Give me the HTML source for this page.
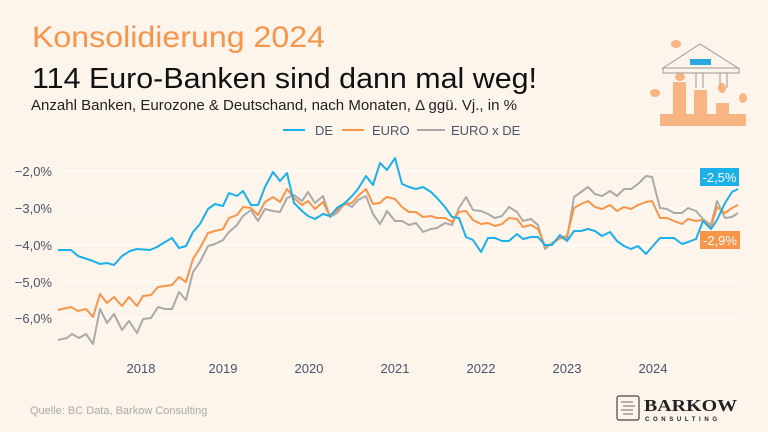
<!DOCTYPE html>
<html><head><meta charset="utf-8"><style>
html,body{margin:0;padding:0;background:#fdf4ec;}
svg{display:block;font-family:"Liberation Sans",sans-serif;}
</style></head><body>
<svg width="768" height="432" viewBox="0 0 768 432" xmlns="http://www.w3.org/2000/svg">
<rect width="768" height="432" fill="#fdf4ec"/>
<text x="32" y="47" font-size="30" fill="#f7954a" textLength="293" lengthAdjust="spacingAndGlyphs">Konsolidierung 2024</text>
<text x="32" y="88" font-size="29" fill="#111" textLength="505" lengthAdjust="spacingAndGlyphs">114 Euro-Banken sind dann mal weg!</text>
<text x="31" y="110" font-size="15" fill="#222" textLength="486" lengthAdjust="spacingAndGlyphs">Anzahl Banken, Eurozone &amp; Deutschand, nach Monaten, Δ ggü. Vj., in %</text>
<g font-size="13" fill="#4a5468">
<line x1="283" y1="130" x2="305" y2="130" stroke="#1ab0e8" stroke-width="2"/><text x="315" y="135">DE</text>
<line x1="342" y1="130" x2="364" y2="130" stroke="#f7954a" stroke-width="2"/><text x="372" y="135">EURO</text>
<line x1="417" y1="130" x2="445" y2="130" stroke="#aaa" stroke-width="2"/><text x="451" y="135">EURO x DE</text>
</g>
<g stroke="#fff" stroke-width="1">
<line x1="58" y1="171" x2="740" y2="171"/><line x1="58" y1="208" x2="740" y2="208"/><line x1="58" y1="245" x2="740" y2="245"/><line x1="58" y1="282" x2="740" y2="282"/><line x1="58" y1="318" x2="740" y2="318"/>
</g>
<g font-size="13" fill="#4a5468" text-anchor="end">
<text x="52" y="176">−2,0%</text><text x="52" y="213">−3,0%</text><text x="52" y="250">−4,0%</text><text x="52" y="287">−5,0%</text><text x="52" y="323">−6,0%</text>
</g>
<g font-size="13" fill="#4a5468" text-anchor="middle">
<text x="141" y="373">2018</text><text x="223" y="373">2019</text><text x="309" y="373">2020</text><text x="395" y="373">2021</text><text x="481" y="373">2022</text><text x="567" y="373">2023</text><text x="653" y="373">2024</text>
</g>
<g fill="none" stroke-width="2" stroke-linejoin="round">
<polyline stroke="#aaa" points="58,340 67,338 72,334 79,338 86,334 93,344 100,309 107,323 114,314 122,330 129,321 137,333 143,319 151,318 158,307 165,309 172,309 179,292 186,300 193,272 200,262 208,246 215,244 223,240 229,232 237,225 243,216 251,210 258,221 265,209 273,211 280,212 287,198 294,195 302,201 308,192 315,203 323,196 330,217 337,213 345,203 352,207 358,200 366,196 373,214 380,224 384,217 387,211 395,221 402,221 409,225 416,223 423,232 431,229 437,228 445,223 452,225 459,208 466,197 473,210 481,211 488,214 495,218 502,216 509,207 517,212 523,221 531,219 538,225 545,249 552,243 560,238 567,239 574,197 581,192 588,187 595,194 602,196 610,191 617,196 624,189 631,189 638,184 646,176 652,177 660,208 667,209 674,213 682,213 688,208 696,211 703,219 711,225 717,201 725,218 732,217 738,213"/>
<polyline stroke="#f7954a" points="58,310 71,307 78,311 86,309 93,317 100,294 107,303 114,297 122,306 129,297 137,306 143,296 151,295 158,287 165,286 172,285 179,277 186,282 193,259 200,248 208,233 215,231 223,229 229,218 237,215 243,207 251,208 258,215 265,202 273,197 280,202 287,189 294,198 302,205 308,201 315,209 323,202 330,216 337,210 345,204 352,203 358,196 366,189 373,204 380,203 384,199 387,197 395,199 402,207 409,212 416,212 423,217 431,216 437,218 445,218 452,222 459,212 466,211 473,220 481,224 488,223 495,226 502,224 509,218 517,219 523,227 531,225 538,229 545,246 552,244 560,238 567,236 574,208 581,204 588,201 595,207 602,209 610,205 617,211 624,207 631,209 638,205 646,202 652,201 660,218 667,218 674,221 682,224 688,219 696,221 703,220 711,227 717,207 725,213 732,208 738,205"/>
<polyline stroke="#1ab0e8" points="58,250 71,250 78,256 93,261 100,264 107,263 114,265 122,256 130,251 137,249 150,250 157,247 165,242 172,238 179,248 186,246 193,232 200,224 208,209 215,204 223,206 229,193 237,196 243,191 251,205 258,205 265,187 273,172 280,181 287,173 294,203 302,211 308,216 315,219 323,214 330,216 337,208 345,203 352,196 358,189 366,176 373,185 380,163 387,170 395,158 402,184 409,187 416,189 423,187 431,192 437,198 445,207 452,217 459,218 466,237 473,240 481,252 488,238 495,238 502,241 509,241 517,234 523,239 531,237 538,237 545,245 552,245 560,235 567,241 574,231 581,231 588,229 595,231 602,236 610,232 617,241 624,246 631,249 638,246 646,254 652,247 660,238 667,238 674,238 682,244 688,242 696,239 703,221 711,229 717,220 725,203 732,192 738,189"/>
</g>
<rect x="700" y="168" width="39" height="18" fill="#1ab0e8"/>
<text x="719.5" y="182" font-size="13" fill="#fff" text-anchor="middle">-2,5%</text>
<rect x="700" y="231" width="40" height="18" fill="#f7954a"/>
<text x="720" y="245" font-size="13" fill="#fff" text-anchor="middle">-2,9%</text>
<g stroke="#999" fill="none" stroke-width="1">
<polygon points="663,68 700,44 738,68"/>
<rect x="663" y="68" width="76" height="5"/>
<line x1="696" y1="73" x2="696" y2="88"/><line x1="703" y1="73" x2="703" y2="88"/>
<line x1="720" y1="73" x2="720" y2="88"/><line x1="727" y1="73" x2="727" y2="88"/>
</g>
<rect x="690" y="59" width="21" height="6" fill="#2aa8e0"/>
<g fill="#f7a060" opacity="0.75">
<rect x="673" y="82" width="13" height="34"/><rect x="694" y="90" width="13" height="26"/><rect x="716" y="103" width="13" height="13"/>
<rect x="660" y="114" width="86" height="12"/>
<ellipse cx="676" cy="44" rx="5" ry="4"/><ellipse cx="680" cy="77" rx="5" ry="4"/><ellipse cx="655" cy="93" rx="5" ry="4"/><ellipse cx="722" cy="88" rx="4" ry="5"/><ellipse cx="743" cy="98" rx="4" ry="5"/>
</g>
<text x="30" y="414" font-size="11" fill="#aaa">Quelle: BC Data, Barkow Consulting</text>
<rect x="617" y="396" width="22" height="24" rx="2" fill="none" stroke="#444" stroke-width="1.2"/>
<g stroke="#666" stroke-width="1"><line x1="621" y1="402" x2="633" y2="402"/><line x1="623" y1="406" x2="635" y2="406"/><line x1="621" y1="410" x2="633" y2="410"/><line x1="623" y1="414" x2="633" y2="414"/></g>
<text x="644" y="411" font-size="17" font-weight="bold" fill="#222" font-family="Liberation Serif,serif" textLength="93" lengthAdjust="spacingAndGlyphs">BARKOW</text>
<text x="645" y="421" font-size="6" font-weight="bold" fill="#222" textLength="72" lengthAdjust="spacing">CONSULTING</text>
</svg>
</body></html>
